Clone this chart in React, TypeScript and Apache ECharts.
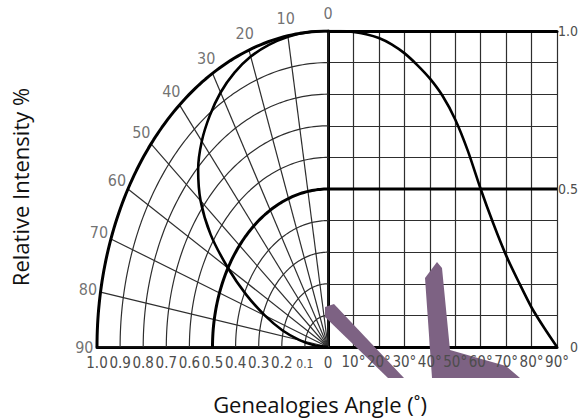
import React, { useEffect, useRef } from 'react';
import * as echarts from 'echarts';

// Measured relative intensity vs. angle (degrees)
const ANGLES = [0, 5, 10, 15, 20, 25, 30, 35, 40, 45, 50, 55, 60, 65, 70, 75, 80, 85, 90];
const INTENSITY = [1.0, 1.0, 0.997, 0.99, 0.978, 0.958, 0.93, 0.893, 0.85, 0.795, 0.72, 0.62, 0.5, 0.39, 0.29, 0.205, 0.125, 0.06, 0.0];

// Polar grid definition
const ANGLE_TICKS = [0, 10, 20, 30, 40, 50, 60, 70, 80, 90];
const ANGLE_TICK_LABELS = ['0', '10', '20', '30', '40', '50', '60', '70', '80', '90'];
const RADII = [0.1, 0.2, 0.3, 0.4, 0.5, 0.6, 0.7, 0.8, 0.9, 1.0];
const HALF_LEVEL = 0.5;
const FULL_LEVEL = 1.0;

const X_TITLE = 'Genealogies Angle (˚)';
const Y_TITLE = 'Relative Intensity %';

const TICK_FONT = "'DejaVu Sans Condensed', 'Liberation Sans Narrow', sans-serif";
const TITLE_FONT = "'Open Sans', 'Noto Sans', sans-serif";
const GRID_COLOR = '#2e2e2e';
const LABEL_COLOR = '#4d4d4d';

const DEG = Math.PI / 180;
const polar = (r: number, a: number): [number, number] => [-r * Math.sin(a * DEG), r * Math.cos(a * DEG)];

export default function App() {
  const ref = useRef<HTMLDivElement>(null);

  useEffect(() => {
    if (!ref.current) return;
    const chart = echarts.init(ref.current, null, { renderer: 'svg' });

    const series: any[] = [];
    const maxA = ANGLE_TICKS[ANGLE_TICKS.length - 1];

    // concentric arcs
    RADII.forEach((r) => {
      const pts: [number, number][] = [];
      for (let a = 0; a <= maxA; a += 1) pts.push(polar(r, a));
      const thick = r === HALF_LEVEL || r === FULL_LEVEL;
      series.push({
        type: 'line', xAxisIndex: 0, yAxisIndex: 0, data: pts, showSymbol: false, silent: true,
        lineStyle: { color: thick ? '#000' : GRID_COLOR, width: thick ? 3 : 1.2 },
        z: thick ? 4 : 2,
      });
    });
    // radial lines
    ANGLE_TICKS.forEach((a) => {
      series.push({
        type: 'line', xAxisIndex: 0, yAxisIndex: 0, data: [[0, 0], polar(1, a)], showSymbol: false, silent: true,
        lineStyle: { color: GRID_COLOR, width: 1.2 }, z: 2,
      });
    });
    // angle labels around the arc
    series.push({
      type: 'scatter', xAxisIndex: 0, yAxisIndex: 0, clip: false, symbolSize: 1, silent: true,
      itemStyle: { color: 'rgba(0,0,0,0)' },
      data: ANGLE_TICKS.map((a, i) => {
        const p = polar(1.055, a);
        return { value: [p[0], p[1]], name: ANGLE_TICK_LABELS[i] };
      }),
      label: {
        show: true, position: 'inside', formatter: (p: any) => p.name,
        fontFamily: TICK_FONT, fontSize: 16, color: LABEL_COLOR,
      },
      z: 6,
    });
    // polar intensity curve
    series.push({
      type: 'line', xAxisIndex: 0, yAxisIndex: 0, smooth: 0.25, showSymbol: false, silent: true,
      data: ANGLES.map((a, i) => polar(INTENSITY[i], a)),
      lineStyle: { color: '#000', width: 2.6 }, z: 5,
    });
    // right: half level line
    series.push({
      type: 'line', xAxisIndex: 1, yAxisIndex: 1, showSymbol: false, silent: true,
      data: [[ANGLE_TICKS[0], HALF_LEVEL], [maxA, HALF_LEVEL]],
      lineStyle: { color: '#000', width: 3 }, z: 4,
    });
    // right: intensity curve
    series.push({
      type: 'line', xAxisIndex: 1, yAxisIndex: 1, smooth: 0.25, showSymbol: false, silent: true,
      data: ANGLES.map((a, i) => [a, INTENSITY[i]]),
      lineStyle: { color: '#000', width: 2.6 }, z: 5,
    });

    const left = 97, top = 31, height = 316, wL = 231, wR = 229;

    chart.setOption({
      animation: false,
      backgroundColor: '#fff',
      grid: [
        { left, top, width: wL, height, outerBoundsMode: 'none', containLabel: false },
        { left: left + wL, top, width: wR, height, outerBoundsMode: 'none', containLabel: false },
      ],
      xAxis: [
        {
          gridIndex: 0, type: 'value', min: -1, max: 0, interval: 0.1,
          axisLine: { show: true, lineStyle: { color: '#000', width: 3 } },
          axisTick: { show: false }, splitLine: { show: false },
          axisLabel: {
            margin: 8, fontFamily: TICK_FONT, fontSize: 15, color: LABEL_COLOR,
            showMinLabel: true, showMaxLabel: true, hideOverlap: false,
            formatter: (v: number) => {
              if (Math.abs(v) < 1e-9) return '0';
              const s = Math.abs(v).toFixed(1);
              return s === '0.1' ? '{s|0.1}' : s;
            },
            rich: { s: { fontFamily: TICK_FONT, fontSize: 12, color: LABEL_COLOR, padding: [3, 0, 0, 0] } },
          },
        },
        {
          gridIndex: 1, type: 'value', min: 0, max: maxA, interval: 10, position: 'bottom',
          axisLine: { show: true, lineStyle: { color: '#000', width: 3 } },
          axisTick: { show: false }, axisLabel: { show: false },
          splitLine: { show: true, lineStyle: { color: GRID_COLOR, width: 1.2 } },
        },
        {
          gridIndex: 1, type: 'value', min: 0, max: maxA, interval: 10, position: 'top',
          axisLine: { show: true, lineStyle: { color: '#000', width: 3 } },
          axisTick: { show: false }, axisLabel: { show: false }, splitLine: { show: false },
        },
        {
          gridIndex: 1, type: 'value', min: 0, max: maxA, interval: 10, position: 'bottom', z: 10,
          axisLine: { show: false }, axisTick: { show: false }, splitLine: { show: false },
          axisLabel: {
            margin: 7, fontFamily: TICK_FONT, fontSize: 15, color: LABEL_COLOR,
            showMinLabel: true, showMaxLabel: true, hideOverlap: false,
            formatter: (v: number) => (v === 0 ? '' : `${v}°`),
          },
        },
      ],
      yAxis: [
        { gridIndex: 0, type: 'value', min: 0, max: 1, show: false },
        {
          gridIndex: 1, type: 'value', min: 0, max: 1, interval: 0.1, position: 'right',
          axisLine: { show: true, lineStyle: { color: '#000', width: 3 } },
          axisTick: { show: false },
          splitLine: { show: true, lineStyle: { color: GRID_COLOR, width: 1.2 } },
          axisLabel: {
            margin: 21, align: 'right', fontFamily: TICK_FONT, fontSize: 14, color: LABEL_COLOR,
            showMinLabel: true, showMaxLabel: true, hideOverlap: false,
            formatter: (v: number) => {
              if (Math.abs(v) < 1e-9) return '0';
              if (Math.abs(v - HALF_LEVEL) < 1e-9) return HALF_LEVEL.toFixed(1);
              if (Math.abs(v - FULL_LEVEL) < 1e-9) return FULL_LEVEL.toFixed(1);
              return '';
            },
          },
        },
      ],
      graphic: [
        {
          type: 'polygon', z: 5, silent: true,
          shape: { points: [[325, 307], [334, 304], [404, 378], [388, 378], [325, 317]] },
          style: { fill: '#7d6283' },
        },
        {
          type: 'polygon', z: 5, silent: true,
          shape: { points: [[437, 262], [425, 278], [432, 378], [520, 378], [506, 366], [450, 350], [442, 268]] },
          style: { fill: '#7d6283' },
        },
        {
          type: 'text', x: 20, y: 187, rotation: Math.PI / 2, z: 10,
          style: { text: Y_TITLE, font: `22px ${TITLE_FONT}`, fill: '#111', textAlign: 'center', textVerticalAlign: 'middle' },
        },
        {
          type: 'text', x: 320, y: 404, z: 10,
          style: { text: X_TITLE, font: `22px ${TITLE_FONT}`, fill: '#111', textAlign: 'center', textVerticalAlign: 'middle' },
        },
      ],
      series,
    });

    return () => chart.dispose();
  }, []);

  return <div ref={ref} style={{ width: 581, height: 419, position: 'absolute', left: 0, top: 0 }} />;
}
